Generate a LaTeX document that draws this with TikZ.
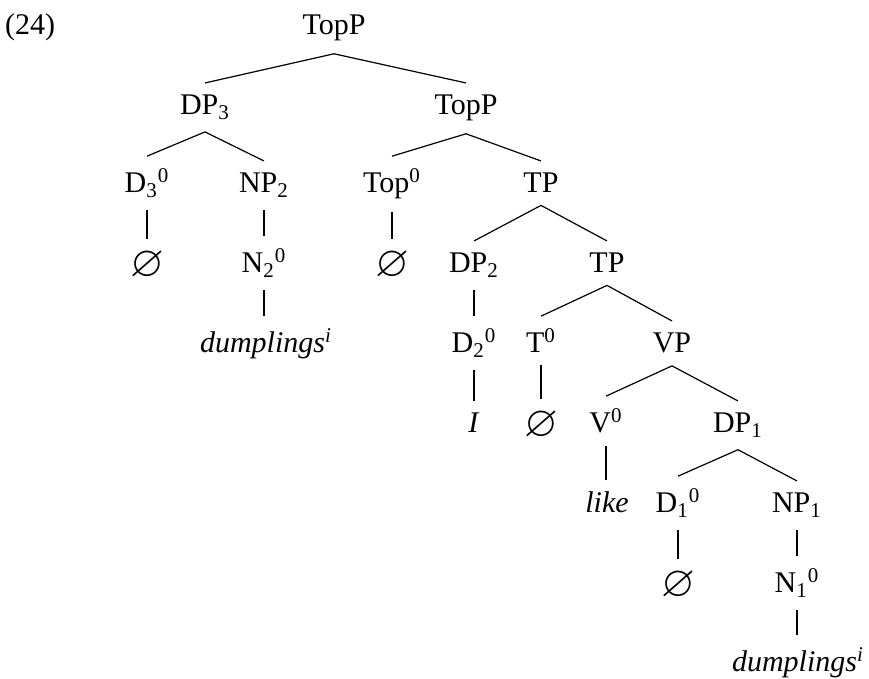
\documentclass[tikz,border=0pt]{standalone}
\usepackage{amssymb}
\usepackage{graphicx}
\usepackage{fontspec}
\setmainfont{Liberation Serif}
\newcommand{\emptymark}{\raisebox{-0.12em}{\scalebox{1.45}{\ensuremath{\varnothing}}}}
\begin{document}
\begin{tikzpicture}[x=0.5pt,y=-0.5pt,
  lab/.style={anchor=base,inner xsep=2pt,inner ysep=6pt,font=\fontsize{15}{17}\selectfont},
  branch/.style={line width=0.6pt}]
\useasboundingbox (0,0) rectangle (869,679);

% example number
\node[lab] (ex) at (30,35) {(24)};

% level 0--2
\node[lab] (topp)  at (334,35)  {TopP};
\node[lab] (dp3)   at (205,115) {DP\textsubscript{3}};
\node[lab] (topp2) at (466,115) {TopP};
\node[lab] (d3)    at (147,193) {D\textsubscript{3}\textsuperscript{0}};
\node[lab] (np2)   at (264,193) {NP\textsubscript{2}};
\node[lab] (top0)  at (392,193) {Top\textsuperscript{0}};
\node[lab] (tp)    at (541,193) {TP};

% level 3
\node[lab] (e3)    at (147,273) {\emptymark};
\node[lab] (n2)    at (264,273) {N\textsubscript{2}\textsuperscript{0}};
\node[lab] (etop)  at (392,273) {\emptymark};
\node[lab] (dp2)   at (474,273) {DP\textsubscript{2}};
\node[lab] (tp2)   at (607,273) {TP};

% level 4
\node[lab] (dump2) at (266,353) {\textit{dumplings}\textsuperscript{\textit{i}}};
\node[lab] (d2)    at (474,353) {D\textsubscript{2}\textsuperscript{0}};
\node[lab] (t0)    at (541,353) {T\textsuperscript{0}};
\node[lab] (vp)    at (672,353) {VP};

% level 5
\node[lab] (pron)  at (474,433) {\textit{I}};
\node[lab] (et)    at (541,433) {\emptymark};
\node[lab] (v0)    at (606,433) {V\textsuperscript{0}};
\node[lab] (dp1)   at (738,433) {DP\textsubscript{1}};

% level 6
\node[lab] (like)  at (607,513) {\textit{like}};
\node[lab] (d1)    at (678,513) {D\textsubscript{1}\textsuperscript{0}};
\node[lab] (np1)   at (797,513) {NP\textsubscript{1}};

% level 7
\node[lab] (e1)    at (678,593) {\emptymark};
\node[lab] (n1)    at (797,593) {N\textsubscript{1}\textsuperscript{0}};

% level 8
\node[lab] (dump1) at (798,672) {\textit{dumplings}\textsuperscript{\textit{i}}};

% binary branches
\draw[branch] (topp.south) -- (dp3.north);
\draw[branch] (topp.south) -- (topp2.north);
\draw[branch] (dp3.south) -- (d3.north);
\draw[branch] (dp3.south) -- (np2.north);
\draw[branch] (topp2.south) -- (top0.north);
\draw[branch] (topp2.south) -- (tp.north);
\draw[branch] (tp.south) -- (dp2.north);
\draw[branch] (tp.south) -- (tp2.north);
\draw[branch] (tp2.south) -- (t0.north);
\draw[branch] (tp2.south) -- (vp.north);
\draw[branch] (vp.south) -- (v0.north);
\draw[branch] (vp.south) -- (dp1.north);
\draw[branch] (dp1.south) -- (d1.north);
\draw[branch] (dp1.south) -- (np1.north);

% unary branches, kept vertical
\draw[branch] (d3.south) -- (d3.south |- e3.north);
\draw[branch] (np2.south) -- (np2.south |- n2.north);
\draw[branch] (top0.south) -- (top0.south |- etop.north);
\draw[branch] (n2.south) -- (n2.south |- dump2.north);
\draw[branch] (dp2.south) -- (dp2.south |- d2.north);
\draw[branch] (d2.south) -- (d2.south |- pron.north);
\draw[branch] (t0.south) -- (t0.south |- et.north);
\draw[branch] (v0.south) -- (v0.south |- like.north);
\draw[branch] (d1.south) -- (d1.south |- e1.north);
\draw[branch] (np1.south) -- (np1.south |- n1.north);
\draw[branch] (n1.south) -- (n1.south |- dump1.north);
\end{tikzpicture}
\end{document}
